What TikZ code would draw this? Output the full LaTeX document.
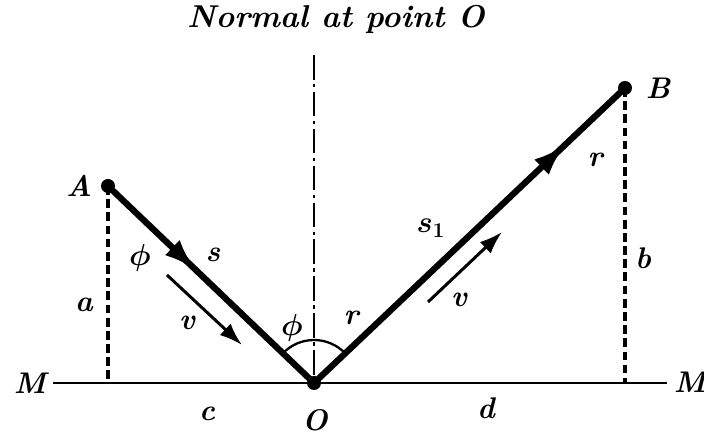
\documentclass[tikz,border=0pt]{standalone}
\usepackage{amsmath}
\usepackage{xcolor}
\usepackage{tikz}
\usetikzlibrary{arrows.meta}
\usetikzlibrary{decorations.markings}
\usetikzlibrary{positioning}

\begin{document}
\begin{tikzpicture}[x=0.02cm, y=0.02cm,
        ray/.style={line width=3.6pt},
        drop/.style={line width=1.8pt, dash pattern=on 5pt off 2.5pt},
        lbl/.style={font=\fontsize{17}{19}\selectfont\bfseries\itshape\mathversion{bold}, inner sep=0pt},
        midarrow/.style={postaction={decorate}, decoration={markings,
            mark=at position #1 with {\arrow{Latex[length=19pt, width=12pt]}}}}]
        \useasboundingbox (0,0) rectangle (704,439);

        % Punti
        \coordinate (O) at (314,56);
        \coordinate (A) at (108,253);
        \coordinate (B) at (625,351);
        \coordinate (Ml) at (53,56);
        \coordinate (Mr) at (667,56);
        \coordinate (Af) at (108,56);
        \coordinate (Bf) at (625,56);
        \coordinate (N) at (314,384);

        \node[lbl, font=\fontsize{18}{20}\selectfont\bfseries\itshape] (title) at (336,420) {Normal at point O};

        % Specchio e normale
        \draw[line width=1.6pt] (Ml) -- (Mr);
        \draw[line width=1.7pt, dash pattern=on 14pt off 2.5pt on 2pt off 2.5pt] (N) -- (O);
        \draw[drop] (A) -- (Af);
        \draw[drop] (B) -- (Bf);

        % Raggi
        \draw[ray, midarrow=0.43] (A) -- (O);
        \draw[ray, midarrow=0.81] (O) -- (B);

        % Velocita
        \coordinate (vL1) at (167,164);
        \coordinate (vL2) at (242,94);
        \coordinate (vR1) at (428,137);
        \coordinate (vR2) at (502,207);
        \draw[line width=1.7pt, -{Latex[length=13pt, width=9pt]}] (vL1) -- (vL2);
        \draw[line width=1.7pt, -{Latex[length=13pt, width=9pt]}] (vR1) -- (vR2);

        % Angoli
        \draw[line width=1.3pt] ([shift={(136.3:43)}]O) arc (136.3:90:43);
        \draw[line width=1.3pt] ([shift={(90:43)}]O) arc (90:43.5:43);

        \fill (A) circle (7);
        \fill (B) circle (7);
        \fill (O) circle (7);

        % Etichette
        \node[lbl] (lA) at (79,253) {A};
        \node[lbl] (lB) at (658,351) {B};
        \node[lbl] (lO) at (315,19) {O};
        \node[lbl] (lMl) at (30,56) {M};
        \node[lbl] (lMr) at (690,57) {M};
        \node[lbl] (la) at (84,134) {a};
        \node[lbl] (lb) at (643,181) {b};
        \node[lbl] (lc) at (207,25) {c};
        \node[lbl] (ld) at (486,31) {d};
        \node[lbl] (ls) at (213,184) {s};
        \node[lbl] (ls1) at (431,211) {$s_1$};
        \node[lbl] (lv) at (187,116) {v};
        \node[lbl] (lv1) at (459,139) {v};
        \node[lbl] (lphi) at (140,181) {$\phi$};
        \node[lbl] (lphi1) at (292,111) {$\phi$};
        \node[lbl] (lr) at (351,121) {r};
        \node[lbl] (lr1) at (595,279) {r};
    \end{tikzpicture}
\end{document}
